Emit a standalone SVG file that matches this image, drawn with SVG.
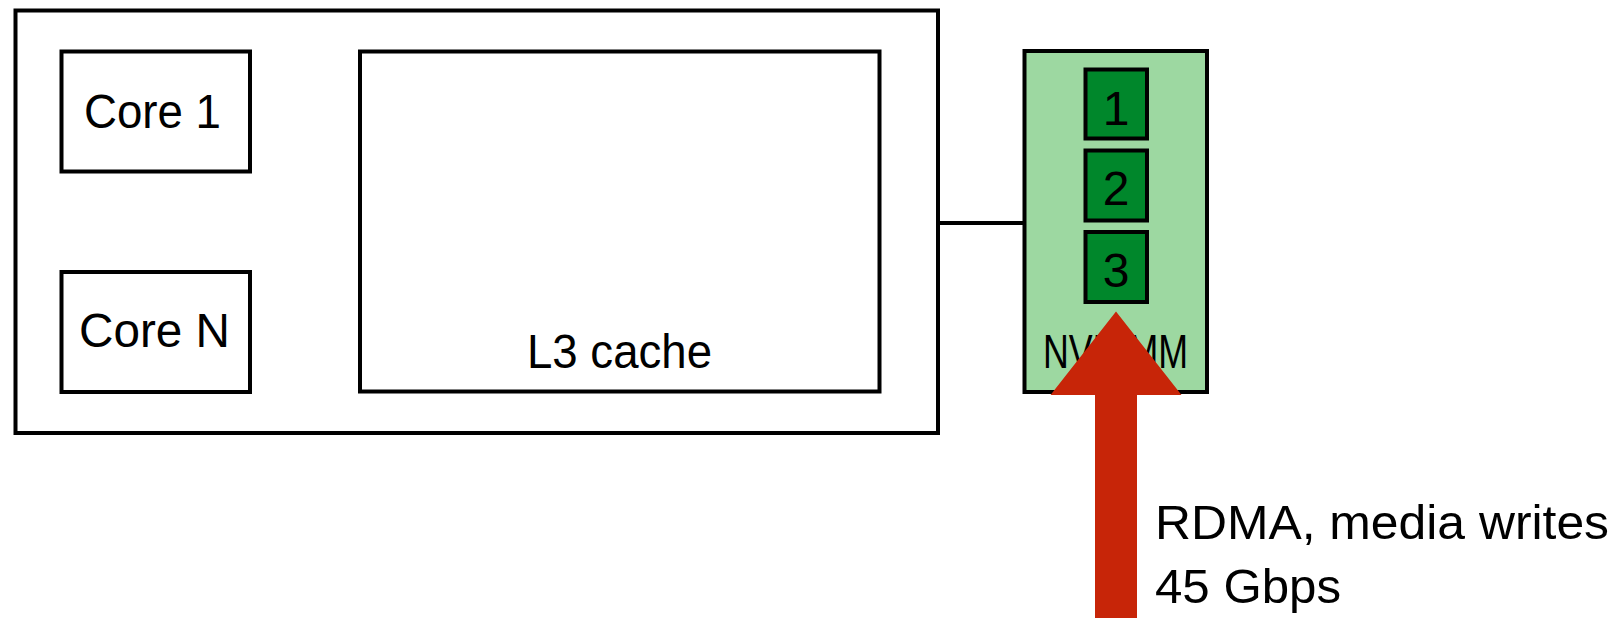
<svg xmlns="http://www.w3.org/2000/svg" width="1617" height="618" viewBox="0 0 1617 618">
  <style>
    .box { fill: #ffffff; stroke: #000000; stroke-width: 4; }
    .dimm { fill: #9dd8a1; stroke: #000000; stroke-width: 4; }
    .cell { fill: #00872b; stroke: #000000; stroke-width: 4; }
    .wire { stroke: #000000; stroke-width: 4; fill: none; }
    .lbl { font-family: "Liberation Sans", Arial, sans-serif; font-size: 48px; fill: #000000; }
    .mid { text-anchor: middle; }
    .flow { fill: #c72508; }
  </style>

  <!-- CPU package -->
  <g id="cpu">
    <rect class="box" x="15.5" y="10.5" width="922.5" height="422.5"/>
  </g>

  <g id="core1">
    <rect class="box" x="61.5" y="51.5" width="188.5" height="120"/>
    <text class="lbl" x="84" y="127.5" textLength="137" lengthAdjust="spacingAndGlyphs">Core 1</text>
  </g>

  <g id="coreN">
    <rect class="box" x="61.5" y="272" width="188.5" height="120"/>
    <text class="lbl" x="79" y="346.5" textLength="151" lengthAdjust="spacingAndGlyphs">Core N</text>
  </g>

  <g id="l3">
    <rect class="box" x="360" y="51.5" width="519.5" height="340"/>
    <text class="lbl" x="527" y="367.5" textLength="185" lengthAdjust="spacingAndGlyphs">L3 cache</text>
  </g>

  <!-- Connectors -->
  <g id="connectors">
    <line class="wire" x1="938" y1="223" x2="1024.5" y2="223"/>
  </g>

  <!-- NVDIMM module with its three cells -->
  <g id="nvdimm">
    <rect class="dimm" x="1024.5" y="51" width="182.5" height="341"/>
    <text class="lbl" x="1043" y="367.5" textLength="145" lengthAdjust="spacingAndGlyphs">NVDIMM</text>
  </g>

  <g id="cell1">
    <rect class="cell" x="1085.5" y="69.5" width="61.5" height="69"/>
    <text class="lbl mid" x="1116" y="124.5">1</text>
  </g>
  <g id="cell2">
    <rect class="cell" x="1085.5" y="150.5" width="61.5" height="70"/>
    <text class="lbl mid" x="1116" y="205">2</text>
  </g>
  <g id="cell3">
    <rect class="cell" x="1085.5" y="232" width="61.5" height="70"/>
    <text class="lbl mid" x="1116" y="286.5">3</text>
  </g>

  <!-- Incoming write stream -->
  <g id="rdma">
    <polygon class="flow" points="1116,311.5 1181.5,395 1137,395 1137,618 1095,618 1095,395 1050.5,395"/>
    <text class="lbl" x="1155" y="538.5" textLength="454" lengthAdjust="spacingAndGlyphs">RDMA, media writes</text>
    <text class="lbl" x="1155" y="603" textLength="186" lengthAdjust="spacingAndGlyphs">45 Gbps</text>
  </g>
</svg>
